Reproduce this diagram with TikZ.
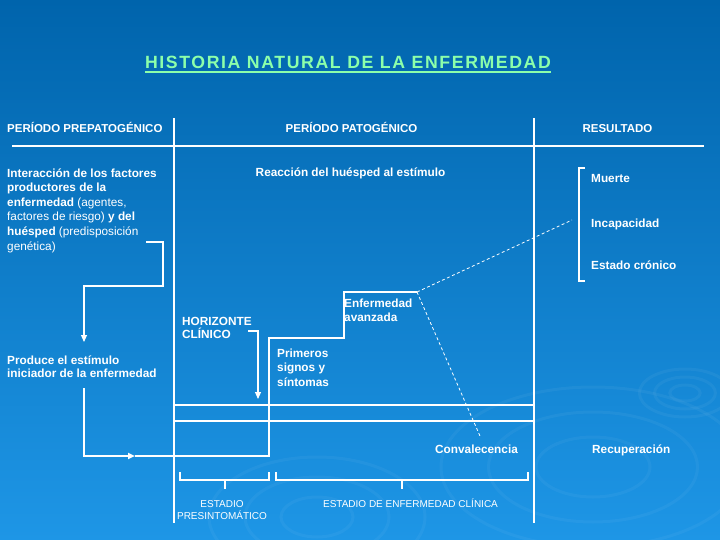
\documentclass[tikz,border=0pt]{standalone}
\usepackage{fontspec}
\setmainfont{Liberation Sans}
\usetikzlibrary{arrows.meta, positioning, calc}
\definecolor{SlideBlue}{RGB}{0, 100, 172}
\definecolor{SlideLight}{RGB}{30, 150, 230}
\definecolor{TitleGreen}{RGB}{140, 255, 170}
\tikzset{
    headbox/.style={
        inner sep=0, text=white, anchor=base,
        font=\fontsize{11.5}{14}\selectfont\bfseries
    },
    textbox/.style={
        inner sep=0, text=white, align=left, anchor=base west,
        font=\fontsize{11.8}{14.6}\selectfont\bfseries
    },
    stagebox/.style={
        inner sep=0, text=white, align=center, anchor=base,
        font=\fontsize{10}{12}\selectfont
    },
    line/.style={draw=white, line width=1.1pt},
    arrow/.style={line, -{Triangle[length=7pt, width=6pt]}},
    dashline/.style={draw=white, line width=0.8pt, dash pattern=on 3pt off 2.5pt},
}

\begin{document}
\begin{tikzpicture}[x=1pt, y=-1pt]
    \tikzstyle{titlebox}=[inner sep=0, text=TitleGreen, anchor=base, font=\fontsize{17.7}{20}\selectfont\bfseries\addfontfeature{LetterSpace=9}]
    \tikzstyle{ripple}=[draw=white, opacity=0.045, line width=3pt]

    % Background
    \fill[top color=SlideBlue, middle color=SlideBlue!90!SlideLight, bottom color=SlideLight] (0,0) rectangle (720,540);
    \useasboundingbox (0,0) rectangle (720,540);
    \foreach \r in {8,16,24} \draw[ripple] (685,393) ellipse ({1.9*\r} and {\r});
    \foreach \r in {30,55,80} \draw[ripple] (593,467) ellipse ({1.9*\r} and {\r});
    \foreach \r in {20,40,60} \draw[ripple] (317,517) ellipse ({1.8*\r} and {\r});

    % Title
    \node[titlebox] (title) at (348,69) {HISTORIA NATURAL DE LA ENFERMEDAD};
    \draw[TitleGreen, line width=1.4pt] ([yshift=-3pt]title.base west) -- ([yshift=-3pt]title.base east);

    % Headers and frame
    \node[headbox, anchor=base west] (prepat) at (7,133) {PERÍODO PREPATOGÉNICO};
    \node[headbox] (pat) at (351.5,133) {PERÍODO PATOGÉNICO};
    \node[headbox] (res) at (617.5,133) {RESULTADO};
    \coordinate (hleft) at (12,146);
    \coordinate (hright) at (704,146);
    \draw[line] (hleft) -- (hright);
    \draw[line] (174,118) -- (174,523);
    \draw[line] (534,118) -- (534,523);

    % Prepathogenic period (multi-line nodes sit on their last baseline)
    \node[textbox] (interaccion) at (7,250) {Interacción de los factores\\
        productores de la\\
        enfermedad {\mdseries (agentes,}\\
        {\mdseries factores de riesgo)} y del\\
        huésped {\mdseries (predisposición}\\
        {\mdseries genética)}};
    \node[textbox, font=\fontsize{11.8}{13.5}\selectfont\bfseries] (produce) at (7,377.5) {Produce el estímulo\\ iniciador de la enfermedad};
    \coordinate (start) at (146,242);
    \coordinate (stim) at (84,342);
    \draw[arrow] (start) -- (163,242) |- (84,286) -- (stim);
    \coordinate (base) at (84,388);
    \coordinate (entry) at (135,456);
    \draw[arrow, line width=2pt] (base) |- (entry);

    % Pathogenic period
    \node[textbox, anchor=base] (reaccion) at (350.5,177) {Reacción del huésped al estímulo};
    \node[textbox, font=\fontsize{11.8}{13.5}\selectfont\bfseries] (horizonte) at (182,338.5) {HORIZONTE\\ CLÍNICO};
    \node[textbox] (primeros) at (277,386.2) {Primeros\\ signos y\\ síntomas};
    \node[textbox, font=\fontsize{11.8}{14.4}\selectfont\bfseries] (avanzada) at (344,321.4) {Enfermedad\\ avanzada};
    \node[textbox] (convalecencia) at (435,453) {Convalecencia};
    \coordinate (peak) at (417,292);
    \draw[line] (entry) -- (269,456) -- (269,338) -- (344,338) -- (344,292) -- (peak);
    \draw[arrow] (248,331) -| (258,399);
    \draw[line] (174,405) -- (534,405);
    \draw[line] (174,421) -- (534,421);
    \draw[dashline] (peak) -- (572,220);
    \draw[dashline] (peak) -- (480,436);

    % Stages
    \node[stagebox] (presint) at (222,519) {ESTADIO\\ PRESINTOMÁTICO};
    \node[stagebox] (clinica) at (410.5,507) {ESTADIO DE ENFERMEDAD CLÍNICA};
    \draw[line] (180,472) |- (269,480) -- (269,472);
    \draw[line] (225,480) -- (225,489);
    \draw[line] (276,472) |- (528,480) -- (528,472);
    \draw[line] (402,480) -- (402,489);

    % Outcome
    \node[textbox] (muerte) at (591,183) {Muerte};
    \node[textbox] (incap) at (591,227) {Incapacidad};
    \node[textbox] (cronico) at (591,269) {Estado crónico};
    \node[textbox] (recuperacion) at (592,453) {Recuperación};
    \draw[line] (585,168) -| (579,281) -- (585,281);
\end{tikzpicture}
\end{document}
